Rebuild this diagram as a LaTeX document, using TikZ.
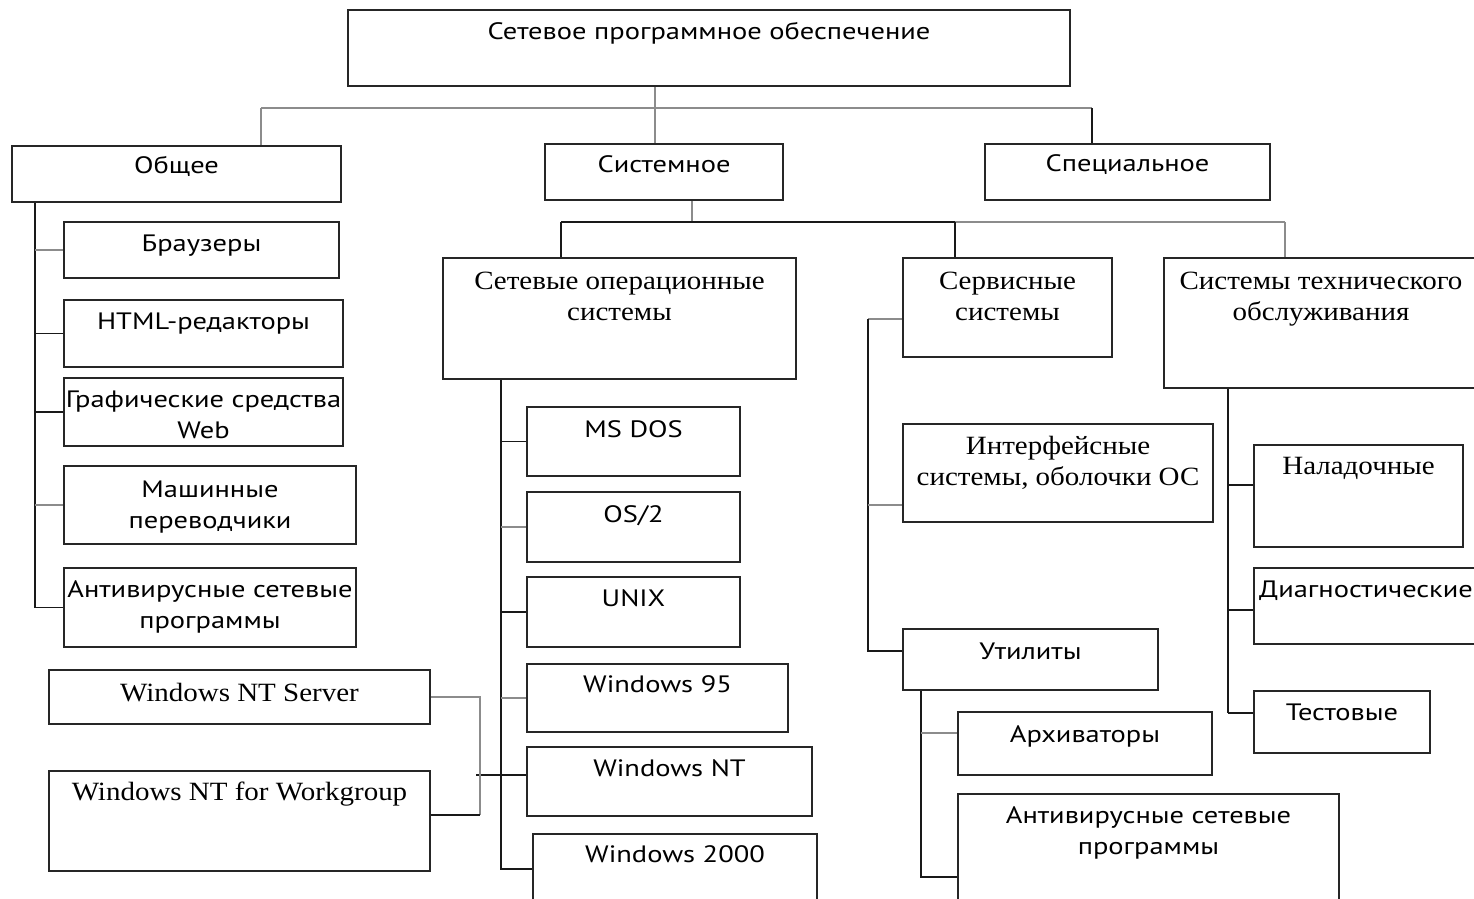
\documentclass[tikz,border=0pt]{standalone}
\usepackage{fontspec}
\newfontfamily\sansf[FakeStretch=1.2]{PT Sans}
\newfontfamily\seriff[FakeStretch=1.1]{Liberation Serif}
\usetikzlibrary{fit}
\newcommand\mybox[8][30]{\node[box, fit={(#3,#4)(#5,#6)}, label={[#7, anchor=base, align=center, inner sep=0pt, yshift=-#1*0.02cm]north:{#8}}] (#2) {};}
\begin{document}
\begin{tikzpicture}[x=0.02cm,y=-0.02cm,
 box/.style={draw=black!85, line width=1.1pt, inner sep=0pt},
 ss/.style={font=\sansf\fontsize{13.5}{17.6}\selectfont},
 sr/.style={font=\seriff\fontsize{15}{17.6}\selectfont},
 dk/.style={draw=black!90, line width=1.1pt},
 lt/.style={draw=black!45, line width=0.8pt}]
\useasboundingbox[fill=white] (0,0) rectangle (1474,899);
% boxes (two-line labels: offset of the last line's baseline)
\mybox{root}{348}{10}{1070}{86}{ss}{Сетевое программное обеспечение}
\mybox[28]{gen}{12}{146}{341}{202}{ss}{Общее}
\mybox[29]{sys}{545}{144}{783}{200}{ss}{Системное}
\mybox[28]{spec}{985}{144}{1270}{200}{ss}{Специальное}
\mybox{brow}{64}{222}{339}{278}{ss}{Браузеры}
\mybox{html}{64}{300}{343}{367}{ss}{HTML-редакторы}
\mybox[61]{graph}{64}{378}{343}{446}{ss}{Графические средства\\Web}
\mybox[63]{mt}{64}{466}{356}{544}{ss}{Машинные\\переводчики}
\mybox[61]{av1}{64}{568}{356}{647}{ss}{Антивирусные сетевые\\программы}
\mybox[63]{netos}{443}{258}{796}{379}{sr}{Сетевые операционные\\системы}
\mybox[31]{msdos}{527}{407}{740}{476}{ss}{MS DOS}
\mybox[31]{os2}{527}{492}{740}{562}{ss}{OS/2}
\mybox{unix}{527}{577}{740}{647}{ss}{UNIX}
\mybox[29]{w95}{527}{664}{788}{732}{ss}{Windows 95}
\mybox{wnt}{527}{747}{812}{816}{ss}{Windows NT}
\mybox[29]{w2k}{533}{834}{817}{905}{ss}{Windows 2000}
\mybox[32]{ntsrv}{49}{670}{430}{724}{sr}{Windows NT Server}
\mybox{ntwg}{49}{771}{430}{871}{sr}{Windows NT for Workgroup}
\mybox[63]{serv}{903}{258}{1112}{357}{sr}{Сервисные\\системы}
\mybox[62]{iface}{903}{424}{1213}{522}{sr}{Интерфейсные\\системы, оболочки ОС}
\mybox[31]{util}{903}{629}{1158}{690}{ss}{Утилиты}
\mybox[31]{arch}{958}{712}{1212}{775}{ss}{Архиваторы}
\mybox[61]{av2}{958}{794}{1339}{905}{ss}{Антивирусные сетевые\\программы}
\mybox[63]{tech}{1164}{258}{1478}{388}{sr}{Системы технического\\обслуживания}
\mybox{nalad}{1254}{445}{1463}{547}{sr}{Наладочные}
\mybox{diag}{1254}{568}{1478}{644}{ss}{Диагностические}
\mybox{test}{1254}{691}{1430}{753}{ss}{Тестовые}
% top level connectors
\coordinate (tb) at (655,108);
\coordinate (tbl) at (261,108);
\coordinate (tbr) at (1092,108);
\draw[lt] (root.south -| tb) -- (tb);
\draw[lt] (tbl) -- (tbr);
\draw[lt] (tbl) -- (gen.north -| tbl);
\draw[lt] (tb) -- (sys.north -| tb);
\draw[dk] (tbr) -- (spec.north -| tbr);
% general
\coordinate (gx) at (35,0);
\draw[dk] (gen.south -| gx) |- (av1.west);
\draw[lt] (brow.west) -- (brow.west -| gx);
\draw[dk] (html.west) -- (html.west -| gx);
\draw[dk] (graph.west) -- (graph.west -| gx);
\draw[lt] (mt.west) -- (mt.west -| gx);
% system
\coordinate (sb) at (692,222);
\coordinate (sbl) at (561,222);
\coordinate (sbm) at (955,222);
\coordinate (sbr) at (1285,222);
\draw[lt] (sys.south -| sb) -- (sb);
\draw[dk] (sbl) -- (sb) -- (sbm);
\draw[lt] (sbm) -- (sbr);
\draw[dk] (sbl) -- (netos.north -| sbl);
\draw[dk] (sbm) -- (serv.north -| sbm);
\draw[lt] (sbr) -- (tech.north -| sbr);
% network OS
\coordinate (ox) at (501,869);
\draw[dk] (netos.south -| ox) -- (ox) -- (w2k.west |- ox);
\draw[dk] (msdos.west) -- (msdos.west -| ox);
\draw[lt] (os2.west) -- (os2.west -| ox);
\draw[dk] (unix.west) -- (unix.west -| ox);
\draw[lt] (w95.west) -- (w95.west -| ox);
\coordinate (ntl) at (476,775);
\draw[dk] (ntl) -- (wnt.west |- ntl);
\coordinate (ntm) at (480,815);
\draw[lt] (ntsrv.east) -| (ntm);
\draw[dk] (ntwg.east |- ntm) -- (ntm);
% service
\coordinate (svt) at (868,319);
\coordinate (svi) at (868,505);
\coordinate (svu) at (868,651);
\draw[lt] (serv.west |- svt) -- (svt);
\draw[dk] (svt) -- (svu) -- (util.west |- svu);
\draw[lt] (svi) -- (iface.west |- svi);
% utilities
\coordinate (ua) at (921,733);
\coordinate (uv) at (921,877);
\draw[dk] (util.south -| uv) -- (uv) -- (av2.west |- uv);
\draw[lt] (ua) -- (arch.west |- ua);
% tech
\coordinate (t1) at (1228,485);
\coordinate (t2) at (1228,610);
\coordinate (t3) at (1228,713);
\draw[dk] (tech.south -| t1) -- (t3);
\draw[dk] (t1) -- (nalad.west |- t1);
\draw[dk] (t2) -- (diag.west |- t2);
\draw[dk] (t3) -- (test.west |- t3);
\end{tikzpicture}
\end{document}
